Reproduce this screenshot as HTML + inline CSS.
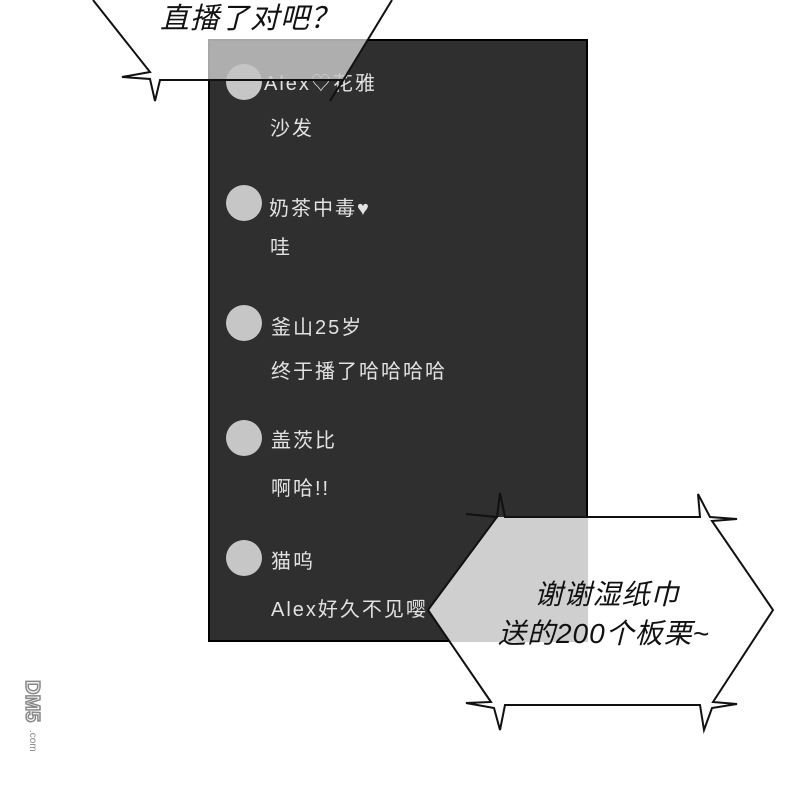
<!DOCTYPE html>
<html><head><meta charset="utf-8"><style>
html,body{margin:0;padding:0;background:#fff;width:794px;height:788px;overflow:hidden}
svg{display:block}
.t{font-family:"Liberation Sans","Noto Sans CJK SC",sans-serif;fill:#e2e2e2;font-size:20px;letter-spacing:2px}
.b{font-family:"Liberation Sans","Noto Sans CJK SC",sans-serif;fill:#111;font-style:italic}
</style></head><body>
<svg width="794" height="788" viewBox="0 0 794 788" xmlns="http://www.w3.org/2000/svg">
<rect x="0" y="0" width="794" height="788" fill="#fff"/>
<rect x="209" y="40" width="378" height="601" fill="#2f2f2f" stroke="#000" stroke-width="2"/>
<g fill="#c6c6c6">
<circle cx="244" cy="82" r="18"/>
<circle cx="244" cy="203" r="18"/>
<circle cx="244" cy="323" r="18"/>
<circle cx="244" cy="438" r="18"/>
<circle cx="244" cy="558" r="18"/>
</g>
<text class="t" x="264" y="90">Alex♡花雅</text>
<text class="t" x="270" y="135">沙发</text>
<text class="t" x="269" y="215">奶茶中毒♥</text>
<text class="t" x="270" y="254">哇</text>
<text class="t" x="271" y="334">釜山25岁</text>
<text class="t" x="271" y="378">终于播了哈哈哈哈</text>
<text class="t" x="271" y="447">盖茨比</text>
<text class="t" x="271" y="495">啊哈!!</text>
<text class="t" x="271" y="568">猫呜</text>
<text class="t" x="271" y="616" font-size="19">Alex好久不见嘤</text>
<!-- top overlay -->
<polygon points="208,39 368,39 342,80 208,80" fill="#c4c4c4" opacity="0.85"/>
<!-- top bubble -->
<polyline points="93,0 150,72 122,77 150,79 155,101 160,80 343,80 330,101 347,74 392,0" fill="none" stroke="#111" stroke-width="2"/>
<text class="b" x="160" y="28" font-size="29" letter-spacing="1">直播了对吧？</text>
<!-- bottom bubble -->
<polygon points="497,517 703,517 773,610 703,705 497,705 428,610" fill="#fff"/>
<clipPath id="c"><rect x="208" y="39" width="380" height="603"/></clipPath>
<polygon points="497,517 703,517 773,610 703,705 497,705 428,610" fill="#cfcfcf" clip-path="url(#c)"/>
<g fill="none" stroke="#111" stroke-width="2">
<polyline points="428,610 497,517 466,514 497,517 500,493 505,517 700,517 698,494 710,517 737,519 712,521 773,610 713,702 737,704 712,708 704,730 700,705 505,705 500,730 494,708 466,703 491,702 428,610"/>
</g>
<text class="b" x="607" y="604" font-size="28" text-anchor="middle" letter-spacing="1">谢谢湿纸巾</text>
<text class="b" x="604" y="643" font-size="28" text-anchor="middle" letter-spacing="1">送的200个板栗~</text>
<!-- watermark -->
<text x="0" y="0" transform="translate(26,680) rotate(90)" font-family="Liberation Sans,sans-serif" font-weight="bold" font-size="20" fill="none" stroke="#888" stroke-width="1.5">DM5</text>
<text x="0" y="0" transform="translate(30,730) rotate(90)" font-family="Liberation Sans,sans-serif" font-size="10" fill="#888">.com</text>
</svg>
</body></html>
